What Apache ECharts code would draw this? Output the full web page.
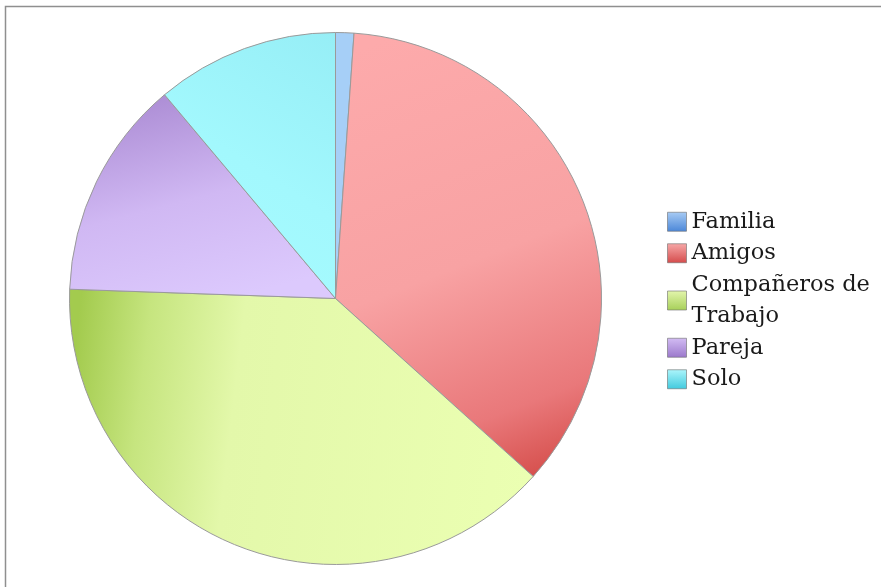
<!DOCTYPE html>
<html>
<head>
<meta charset="utf-8">
<script src="https://cdn.jsdelivr.net/npm/echarts@6/dist/echarts.min.js"></script>
<style>
  html, body { margin: 0; padding: 0; background: #ffffff; }
  #chart { width: 881px; height: 587px; }
</style>
</head>
<body>
<div id="chart"></div>
<script>
// Who people spend their time with
var categories = ['Familia', 'Amigos', 'Compañeros de Trabajo', 'Pareja', 'Solo'];
var counts = [1, 32, 35, 12, 10];

function lin(x, y, x2, y2, stops) {
  return new echarts.graphic.LinearGradient(x, y, x2, y2,
    stops.map(function (s) { return { offset: s[0], color: s[1] }; }));
}

// Fill of each slice
var sliceFills = [
  '#a6cff7',
  lin(0.25, 0, 0.9, 1, [[0, '#fdaaab'], [0.5, '#f8a2a3'], [0.82, '#e9787a'], [1, '#d24844']]),
  lin(0, 0.4, 1, 0.6, [[0, '#a3cb4e'], [0.15, '#c6e57f'], [0.35, '#e3f8aa'], [1, '#ebffb2']]),
  lin(0.4, 0, 0.6, 1, [[0, '#ae8fd6'], [0.5, '#d0b8f3'], [1, '#dcc9fd']]),
  lin(1, 0, 0, 1, [[0, '#96eef6'], [0.5, '#a2f8fd'], [1, '#a7fcff']])
];

// Fill of each legend swatch
var swatchFills = [
  lin(0, 0, 0, 1, [[0, '#a9ccf4'], [1, '#4a86d8']]),
  lin(0, 0, 0, 1, [[0, '#f7a9a9'], [1, '#d44a4a']]),
  lin(0, 0, 0, 1, [[0, '#e4f6ae'], [1, '#a6cf58']]),
  lin(0, 0, 0, 1, [[0, '#d3bdf4'], [1, '#9a77cb']]),
  lin(0, 0, 0, 1, [[0, '#aef6fc'], [1, '#3fc9dd']])
];

var chart = echarts.init(document.getElementById('chart'), null, { renderer: 'canvas' });

chart.setOption({
  animation: false,
  backgroundColor: '#ffffff',
  graphic: [{
    type: 'rect',
    shape: { x: 5.5, y: 6.5, width: 1000, height: 1000 },
    style: { fill: 'none', stroke: '#8f8f8f', lineWidth: 1.5 },
    silent: true
  }],
  legend: {
    orient: 'vertical',
    left: 667,
    top: 206,
    padding: 0,
    itemGap: 0,
    itemWidth: 19,
    itemHeight: 19,
    icon: 'rect',
    formatter: function (name) { return name.replace(' de ', ' de\n'); },
    textStyle: {
      fontFamily: 'DejaVu Serif',
      fontSize: 22.5,
      lineHeight: 31.5,
      color: '#1a1a1a'
    },
    data: categories.map(function (c, i) {
      return {
        name: c,
        itemStyle: { color: swatchFills[i], borderColor: 'rgba(110,110,110,0.6)', borderWidth: 1 }
      };
    })
  },
  series: [{
    type: 'pie',
    center: [335.5, 298.5],
    radius: [0, 266],
    startAngle: 90,
    clockwise: true,
    avoidLabelOverlap: false,
    label: { show: false },
    labelLine: { show: false },
    emphasis: { disabled: true },
    itemStyle: { borderColor: '#9a9a9a', borderWidth: 1 },
    data: categories.map(function (c, i) {
      return { name: c, value: counts[i], itemStyle: { color: sliceFills[i] } };
    })
  }]
});
</script>
</body>
</html>
